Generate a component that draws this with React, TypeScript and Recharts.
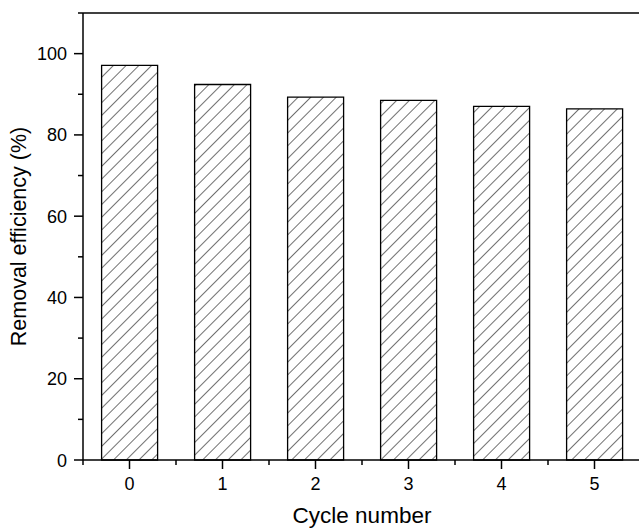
import { BarChart, Bar, XAxis, YAxis, ReferenceLine } from "recharts";

// cycle number vs removal efficiency (%)
const cycles = ["0", "1", "2", "3", "4", "5"];
const efficiency = [97.1, 92.4, 89.3, 88.5, 87.0, 86.4];
const yTicks = [0, 10, 20, 30, 40, 50, 60, 70, 80, 90, 100, 110];

const data = cycles.map((c, i) => ({ cycle: c, value: efficiency[i] }));

const FONT = "'Liberation Sans', Arial, sans-serif";
const CHART_W = 660;
const CHART_H = 528;
const MARGIN = { top: 13, right: 19, left: 0, bottom: 0 };
const Y_W = 83;
const PLOT_W = CHART_W - MARGIN.left - MARGIN.right - Y_W;
const HALF_BAND = PLOT_W / cycles.length / 2;

function XTick(props: any) {
  const { x, y, payload, index } = props;
  return (
    <g>
      <line x1={x} y1={y} x2={x} y2={y + 9} stroke="#000" strokeWidth={1.5} />
      <line x1={x + HALF_BAND} y1={y} x2={x + HALF_BAND} y2={y + 5} stroke="#000" strokeWidth={1.5} />
      {index === 0 && (
        <line x1={x - HALF_BAND} y1={y} x2={x - HALF_BAND} y2={y + 5} stroke="#000" strokeWidth={1.5} />
      )}
      <text x={x} y={y + 30} textAnchor="middle" fontSize={18} fontFamily={FONT} fill="#000">
        {payload.value}
      </text>
    </g>
  );
}

function YTick(props: any) {
  const { x, y, payload } = props;
  const major = payload.value % 20 === 0;
  return (
    <g>
      <line x1={x} y1={y} x2={x - (major ? 9 : 5)} y2={y} stroke="#000" strokeWidth={1.5} />
      {major && (
        <text x={x - 16} y={y + 6.5} textAnchor="end" fontSize={18} fontFamily={FONT} fill="#000">
          {payload.value}
        </text>
      )}
    </g>
  );
}

function XTitle(props: any) {
  const { viewBox } = props;
  return (
    <text
      x={viewBox.x + viewBox.width / 2}
      y={523}
      textAnchor="middle"
      fontSize={22.5}
      fontFamily={FONT}
      fill="#000"
    >
      Cycle number
    </text>
  );
}

function YTitle(props: any) {
  const { viewBox } = props;
  const cx = 19;
  const cy = viewBox.y + viewBox.height / 2;
  return (
    <text
      x={cx}
      y={cy}
      transform={`rotate(-90 ${cx} ${cy})`}
      textAnchor="middle"
      dominantBaseline="central"
      fontSize={21.5}
      fontFamily={FONT}
      fill="#000"
    >
      Removal efficiency (%)
    </text>
  );
}

export default function App() {
  return (
    <div style={{ position: "absolute", left: 0, top: 0, width: 639, height: 528, overflow: "hidden", background: "#fff" }}>
      <BarChart width={CHART_W} height={CHART_H} data={data} margin={MARGIN} barCategoryGap="20%">
        <defs>
          <pattern id="hatch" width={9} height={9} patternUnits="userSpaceOnUse" patternTransform="rotate(45)">
            <rect width={9} height={9} fill="#fff" />
            <line x1={0} y1={0} x2={0} y2={9} stroke="#111" strokeWidth={1.2} />
          </pattern>
        </defs>
        <XAxis
          dataKey="cycle"
          height={68}
          tickSize={0}
          tickMargin={0}
          tickLine={false}
          axisLine={{ stroke: "#000", strokeWidth: 1.5 }}
          tick={<XTick />}
          interval={0}
          label={{ content: (p: any) => <XTitle {...p} /> }}
        />
        <YAxis
          width={Y_W}
          domain={[0, 110]}
          ticks={yTicks}
          interval={0}
          tickSize={0}
          tickMargin={0}
          tickLine={false}
          axisLine={{ stroke: "#000", strokeWidth: 1.5 }}
          tick={<YTick />}
          label={{ content: (p: any) => <YTitle {...p} /> }}
        />
        <ReferenceLine y={110} stroke="#000" strokeWidth={1.5} ifOverflow="extendDomain" />
        <Bar
          dataKey="value"
          fill="url(#hatch)"
          stroke="#000"
          strokeWidth={1.3}
          isAnimationActive={false}
        />
      </BarChart>
    </div>
  );
}
